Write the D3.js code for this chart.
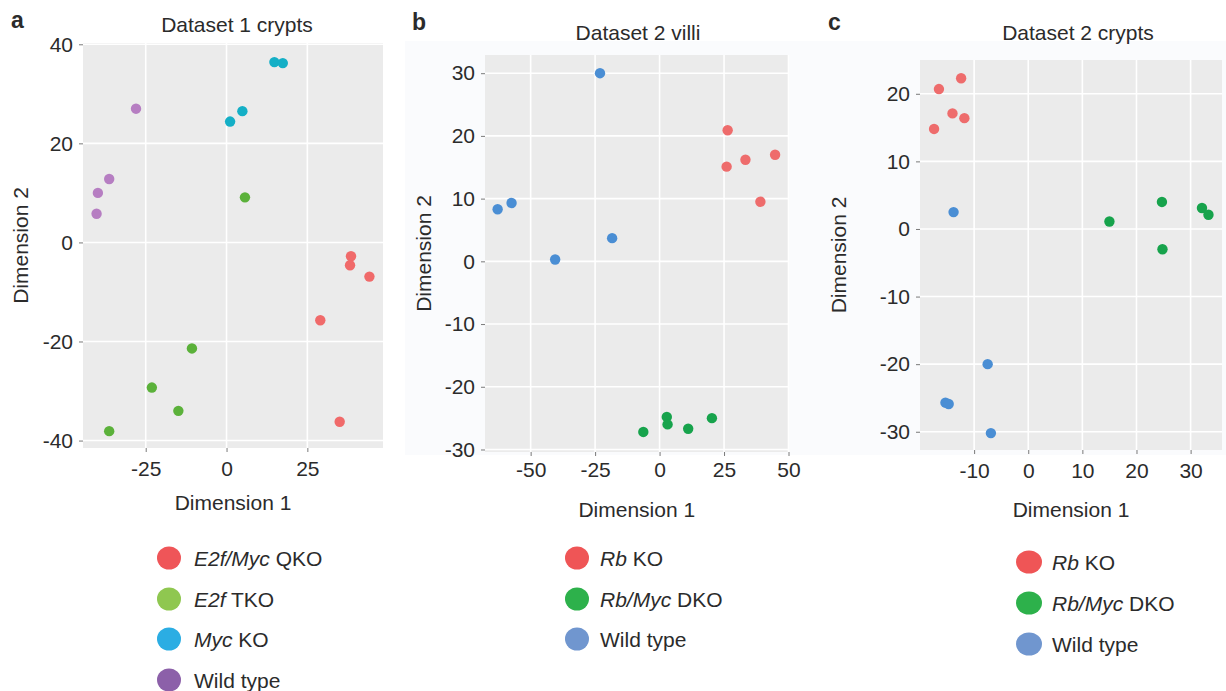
<!DOCTYPE html>
<html><head><meta charset="utf-8">
<script src="https://cdn.jsdelivr.net/npm/d3@7"></script>
<style>
body{margin:0;background:#fff;}
text{font-family:"Liberation Sans",Arial,sans-serif;fill:#2b2b2b;}
</style></head>
<body>
<svg id="chart" width="1226" height="691"></svg>
<script>
// ---------- Data ----------
// Panel a: Dataset 1 crypts
const aGroups = ["E2f/Myc QKO","E2f TKO","Myc KO","Wild type"];
const aX = [38.5, 38.2, 44.2, 29.0, 35.0,   5.7, -10.7, -23.1, -14.9, -36.3,   14.8, 17.4, 1.1, 4.9,   -28.0, -36.3, -39.8, -40.2];
const aY = [-2.8, -4.6, -6.9, -15.7, -36.2,  9.1, -21.4, -29.3, -34.0, -38.1,  36.4, 36.2, 24.4, 26.5,  27.0, 12.8, 10.0, 5.8];
const aG = [0,0,0,0,0, 1,1,1,1,1, 2,2,2,2, 3,3,3,3];
const aXTicks = [-25, 0, 25];
const aYTicks = [-40, -20, 0, 20, 40];

// Panel b: Dataset 2 villi
const bGroups = ["Rb KO","Rb/Myc DKO","Wild type"];
const bX = [26.4, 26.0, 33.3, 44.8, 39.1,   -6.3, 2.8, 3.1, 11.1, 20.3,   -23.1, -62.8, -57.4, -18.4, -40.5];
const bY = [20.9, 15.1, 16.2, 17.0, 9.5,   -27.2, -24.8, -26.0, -26.7, -25.0,  30.0, 8.3, 9.3, 3.7, 0.3];
const bG = [0,0,0,0,0, 1,1,1,1,1, 2,2,2,2,2];
const bXTicks = [-50, -25, 0, 25, 50];
const bYTicks = [-30, -20, -10, 0, 10, 20, 30];

// Panel c: Dataset 2 crypts
const cGroups = ["Rb KO","Rb/Myc DKO","Wild type"];
const cX = [-12.4, -16.5, -14.0, -11.8, -17.4,   15.0, 24.7, 24.8, 32.1, 33.3,   -13.8, -7.5, -15.3, -14.7, -6.9];
const cY = [22.3, 20.7, 17.1, 16.4, 14.8,   1.1, 4.0, -3.0, 3.1, 2.1,   2.5, -20.0, -25.7, -25.9, -30.2];
const cG = [0,0,0,0,0, 1,1,1,1,1, 2,2,2,2,2];
const cXTicks = [-10, 0, 10, 20, 30];
const cYTicks = [-30, -20, -10, 0, 10, 20];

// legend labels: [italic part, plain part]
const aLegend = [["E2f/Myc"," QKO"],["E2f"," TKO"],["Myc"," KO"],["","Wild type"]];
const bcLegend = [["Rb"," KO"],["Rb/Myc"," DKO"],["","Wild type"]];

// ---------- Styles ----------
const aPointCol = ["#F06A6A","#5BB13A","#14AFC6","#B67EC2"];
const aLegCol   = ["#EF5558","#8FC750","#2BADE3","#8C60A9"];
const bcPointCol = ["#EE6C6C","#17A34C","#4A8ED4"];
const bcLegCol   = ["#EF5556","#2DB14B","#7096CF"];
const FS = 21;

const svg = d3.select("#chart");
// faint tinted figure background behind panels b and c
svg.append("rect").attr("x",405).attr("y",41).attr("width",821).attr("height",414).attr("fill","#FAFBFD");

function panel(cfg){
  const g = svg.append("g");
  const x = d3.scaleLinear().domain(cfg.xDom).range([cfg.left, cfg.right]);
  const y = d3.scaleLinear().domain(cfg.yDom).range([cfg.bottom, cfg.top]);
  g.append("rect").attr("x",cfg.left).attr("y",cfg.top)
    .attr("width",cfg.right-cfg.left).attr("height",cfg.bottom-cfg.top).attr("fill","#EBEBEB");
  g.selectAll(".vg").data(cfg.xTicks).enter().append("line")
    .attr("x1",d=>x(d)).attr("x2",d=>x(d)).attr("y1",cfg.top).attr("y2",cfg.bottom)
    .attr("stroke","#fff").attr("stroke-width",1.6);
  g.selectAll(".hg").data(cfg.yTicks).enter().append("line")
    .attr("y1",d=>y(d)).attr("y2",d=>y(d)).attr("x1",cfg.left).attr("x2",cfg.right)
    .attr("stroke","#fff").attr("stroke-width",1.6);
  const fmt = d => String(d);
  const xa = g.append("g").attr("transform",`translate(0,${cfg.bottom})`)
    .call(d3.axisBottom(x).tickValues(cfg.xTicks).tickFormat(fmt).tickSize(4).tickPadding(cfg.xPad));
  const ya = g.append("g").attr("transform",`translate(${cfg.left},0)`)
    .call(d3.axisLeft(y).tickValues(cfg.yTicks).tickFormat(fmt).tickSize(4).tickPadding(6));
  [xa,ya].forEach(a=>{
    a.select(".domain").remove();
    a.selectAll(".tick line").attr("stroke","#7a7a7a");
    a.selectAll(".tick text").attr("font-size",FS).attr("font-family","Liberation Sans, Arial, sans-serif").attr("fill","#2b2b2b");
  });
  g.selectAll(".pt").data(cfg.xs.map((v,i)=>({x:v,y:cfg.ys[i],g:cfg.gs[i]}))).enter()
    .append("circle").attr("cx",d=>x(d.x)).attr("cy",d=>y(d.y)).attr("r",5.2)
    .attr("fill",d=>cfg.cols[d.g]);
  g.append("text").attr("x",cfg.titleX).attr("y",cfg.titleY).attr("text-anchor","middle")
    .attr("font-size",FS).text(cfg.title);
  g.append("text").attr("x",cfg.letterX).attr("y",cfg.letterY).attr("font-size",23)
    .attr("font-weight","bold").attr("fill","#1a1a1a").text(cfg.letter);
  g.append("text").attr("x",(cfg.left+cfg.right)/2).attr("y",cfg.xTitleY).attr("text-anchor","middle")
    .attr("font-size",FS).text("Dimension 1");
  g.append("text").attr("transform",`translate(${cfg.yTitleX},${(cfg.top+cfg.bottom)/2}) rotate(-90)`)
    .attr("text-anchor","middle").attr("font-size",FS).text("Dimension 2");
  const lg = g.append("g");
  cfg.legend.forEach((lab,i)=>{
    const cy = cfg.legY[i];
    lg.append("ellipse").attr("cx",cfg.legX).attr("cy",cy).attr("rx",cfg.legRx).attr("ry",11.5)
      .attr("fill",cfg.legCols[i]);
    const t = lg.append("text").attr("x",cfg.legTextX).attr("y",cy+7.5).attr("font-size",FS);
    if(lab[0]) t.append("tspan").attr("font-style","italic").text(lab[0]);
    t.append("tspan").text(lab[1]);
  });
}

panel({letter:"a", letterX:11, letterY:28, title:"Dataset 1 crypts", titleX:237, titleY:32,
  left:83, right:383, top:43, bottom:448, xDom:[-44.4,48.4], yDom:[-41.5,40.26],
  xTicks:aXTicks, yTicks:aYTicks, xs:aX, ys:aY, gs:aG, cols:aPointCol, xPad:9,
  xTitleY:510, yTitleX:28,
  legend:aLegend, legCols:aLegCol, legX:169, legY:[558,599,639,680], legRx:12, legTextX:194});

panel({letter:"b", letterX:412, letterY:30, title:"Dataset 2 villi", titleX:638, titleY:39.5,
  left:485, right:788.5, top:55, bottom:452, xDom:[-67.7,50], yDom:[-30.4,32.9],
  xTicks:bXTicks, yTicks:bYTicks, xs:bX, ys:bY, gs:bG, cols:bcPointCol, xPad:6,
  xTitleY:517, yTitleX:431,
  legend:bcLegend, legCols:bcLegCol, legX:577, legY:[558,599,639], legRx:12, legTextX:600});

panel({letter:"c", letterX:828, letterY:30, title:"Dataset 2 crypts", titleX:1078, titleY:40,
  left:920, right:1222, top:60, bottom:450, xDom:[-20,35.8], yDom:[-32.7,25.0],
  xTicks:cXTicks, yTicks:cYTicks, xs:cX, ys:cY, gs:cG, cols:bcPointCol, xPad:9,
  xTitleY:517, yTitleX:846,
  legend:bcLegend, legCols:bcLegCol, legX:1029, legY:[562,603,644], legRx:13, legTextX:1052});
</script>
</body></html>
